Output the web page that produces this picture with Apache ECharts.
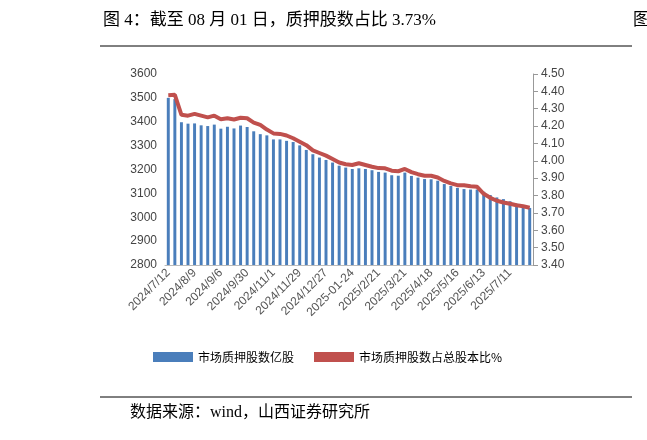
<!DOCTYPE html>
<html><head><meta charset="utf-8">
<script src="https://cdn.jsdelivr.net/npm/echarts@6/dist/echarts.min.js"></script>
<style>body{margin:0;background:#fff}#c{width:647px;height:440px}</style></head>
<body><div id="c"></div><script>
const categories=["2024/7/12","2024/7/19","2024/7/26","2024/8/2","2024/8/9","2024/8/16","2024/8/23","2024/8/30","2024/9/6","2024/9/13","2024/9/20","2024/9/27","2024/9/30","2024/10/11","2024/10/18","2024/10/25","2024/11/1","2024/11/8","2024/11/15","2024/11/22","2024/11/29","2024/12/6","2024/12/13","2024/12/20","2024/12/27","2025/1/3","2025/1/10","2025/1/17","2025-01-24","2025/1/27","2025/2/7","2025/2/14","2025/2/21","2025/2/28","2025/3/7","2025/3/14","2025/3/21","2025/3/28","2025/4/3","2025/4/11","2025/4/18","2025/4/25","2025/4/30","2025/5/9","2025/5/16","2025/5/23","2025/5/30","2025/6/6","2025/6/13","2025/6/20","2025/6/27","2025/7/4","2025/7/11","2025/7/18","2025/7/25","2025/8/1"];
const shares=[3500,3495,3398,3392,3393,3385,3382,3388,3371,3379,3372,3384,3378,3360,3348,3343,3326,3326,3320,3315,3301,3282,3264,3250,3240,3229,3216,3208,3202,3205,3202,3197,3190,3187,3176,3174,3187,3173,3166,3160,3159,3153,3139,3131,3123,3118,3116,3116,3107,3093,3083,3076,3067,3057,3050,3039];
const ratio=[4.378,4.38,4.265,4.26,4.27,4.26,4.25,4.26,4.24,4.245,4.238,4.248,4.245,4.22,4.207,4.18,4.158,4.155,4.146,4.13,4.11,4.09,4.06,4.045,4.03,4.01,3.99,3.98,3.976,3.986,3.976,3.966,3.958,3.957,3.943,3.94,3.953,3.935,3.923,3.914,3.914,3.904,3.884,3.87,3.86,3.859,3.853,3.85,3.81,3.787,3.77,3.76,3.753,3.744,3.738,3.73];
const labelIdx=[0,4,8,12,16,20,24,28,32,36,40,44,48,52];
const F='"Liberation Serif","Noto Sans CJK SC",serif';
const c=echarts.init(document.getElementById('c'));
c.setOption({
 animation:false,
 graphic:[
  {type:'text',left:103,top:12,style:{text:'图 4：截至 08 月 01 日，质押股数占比 3.73%',font:'17px '+F,fill:'#000'}},
  {type:'text',left:633,top:12,style:{text:'图',font:'17px '+F,fill:'#000'}},
  {type:'line',shape:{x1:100,y1:46,x2:632,y2:46},style:{stroke:'#000',lineWidth:1}},
  {type:'line',shape:{x1:100,y1:397,x2:632,y2:397},style:{stroke:'#000',lineWidth:1}},
  {type:'text',left:130,top:405,style:{text:'数据来源：wind，山西证券研究所',font:'16px '+F,fill:'#000'}}
 ],
 legend:{bottom:72,left:148,itemGap:20,itemWidth:40,itemHeight:10,textStyle:{fontSize:12,color:'#000',fontFamily:'"Noto Sans CJK SC"'},
  data:[{name:'市场质押股数亿股',icon:'rect'},{name:'市场质押股数占总股本比%',icon:'rect'}]},
 grid:{left:165,right:114,top:74,bottom:175},
 xAxis:{type:'category',data:categories,
  axisLine:{lineStyle:{color:'#bbb'}},axisTick:{alignWithLabel:true,lineStyle:{color:'#bbb'}},
  axisLabel:{rotate:45,color:'#555',fontSize:12,fontFamily:'Liberation Sans',interval:(i)=>labelIdx.includes(i),margin:6}},
 yAxis:[
  {type:'value',min:2800,max:3600,interval:100,axisLine:{show:false},axisTick:{show:false},splitLine:{show:false},axisLabel:{color:'#444',fontSize:12,fontFamily:'Liberation Sans',formatter:v=>String(v)}},
  {type:'value',min:3.4,max:4.5,interval:0.1,position:'right',axisLine:{show:true,lineStyle:{color:'#999'}},axisTick:{show:true,lineStyle:{color:'#999'}},splitLine:{show:false},
   axisLabel:{color:'#444',fontSize:12,fontFamily:'Liberation Sans',formatter:v=>v.toFixed(2)}}
 ],
 series:[
  {name:'市场质押股数亿股',type:'bar',data:shares,barWidth:'45%',itemStyle:{color:'#4a7ebb'}},
  {name:'市场质押股数占总股本比%',type:'line',yAxisIndex:1,data:ratio,symbol:'none',lineStyle:{color:'#c0504d',width:4},itemStyle:{color:'#c0504d'}}
 ]
});
</script></body></html>
